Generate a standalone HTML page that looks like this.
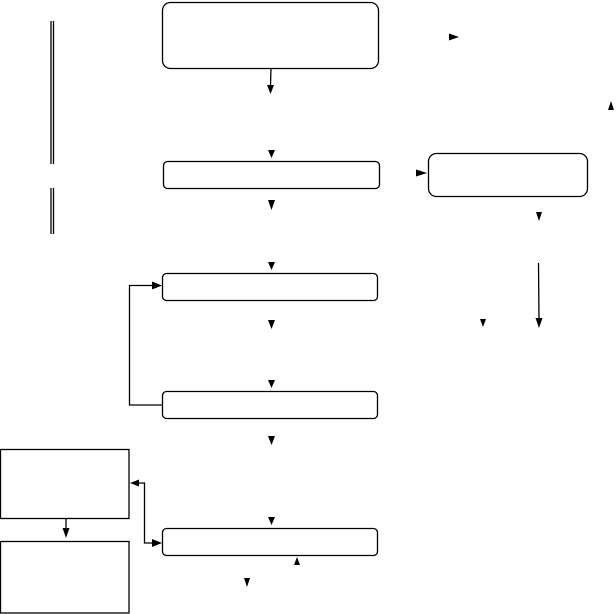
<!DOCTYPE html>
<html><head><meta charset="utf-8"><style>html,body{margin:0;padding:0;background:#fff;}svg{display:block;}</style></head>
<body>
<svg width="616" height="614" viewBox="0 0 616 614" xmlns="http://www.w3.org/2000/svg">
<g fill="none" stroke="#000" stroke-width="1.3">
<rect x="162.5" y="2.5" width="216" height="66" rx="8"/>
<rect x="163.5" y="161.5" width="216" height="27" rx="4"/>
<rect x="162.5" y="273.5" width="215" height="27" rx="4"/>
<rect x="162.5" y="391.5" width="215" height="27" rx="4"/>
<rect x="162.5" y="528.5" width="215" height="27" rx="4"/>
<rect x="428.5" y="153.5" width="159" height="43" rx="8"/>
<rect x="0.5" y="449.5" width="128.5" height="69"/>
<rect x="0.5" y="541.5" width="128.5" height="71.5"/>
<line x1="271" y1="68" x2="270.5" y2="86"/>
<polyline points="162,405 129.5,405 129.5,285.5 153,285.5"/>
<polyline points="138,483 144.5,483 144.5,543 152,543"/>
<line x1="66" y1="518" x2="66" y2="530"/>
<line x1="538.5" y1="263" x2="539" y2="319"/>
<line x1="51" y1="21" x2="51" y2="164"/><line x1="53.5" y1="21" x2="53.5" y2="164"/>
<line x1="51" y1="188" x2="51" y2="234"/><line x1="53.5" y1="188" x2="53.5" y2="234"/>
</g>
<g fill="#000">
<polygon points="267,85 274,85 270.5,94"/>
<polygon points="268,150 275,150 271.5,158"/>
<polygon points="268,200 275,200 271.5,210"/>
<polygon points="268,262 275,262 271.5,270"/>
<polygon points="268,320 275,320 271.5,329"/>
<polygon points="268,380 275,380 271.5,388"/>
<polygon points="268,436 275,436 271.5,445"/>
<polygon points="268,517 275,517 271.5,525"/>
<polygon points="294,565 300,565 297,557"/>
<polygon points="244,578 250,578 247,587"/>
<polygon points="62.5,528 69.5,528 66,538"/>
<polygon points="152,281.5 152,289.5 162,285.5"/>
<polygon points="152,539 152,547 162,543"/>
<polygon points="139,479.5 139,486.5 130,483"/>
<polygon points="449,33.5 449,40.5 459,37"/>
<polygon points="416,169.5 416,176.5 427,173"/>
<polygon points="608,110 614,110 611,101"/>
<polygon points="536,212 542,212 539,221"/>
<polygon points="535.5,318 542.5,318 539,328"/>
<polygon points="480,319 486,319 483,327"/>
</g>
</svg>
</body></html>
